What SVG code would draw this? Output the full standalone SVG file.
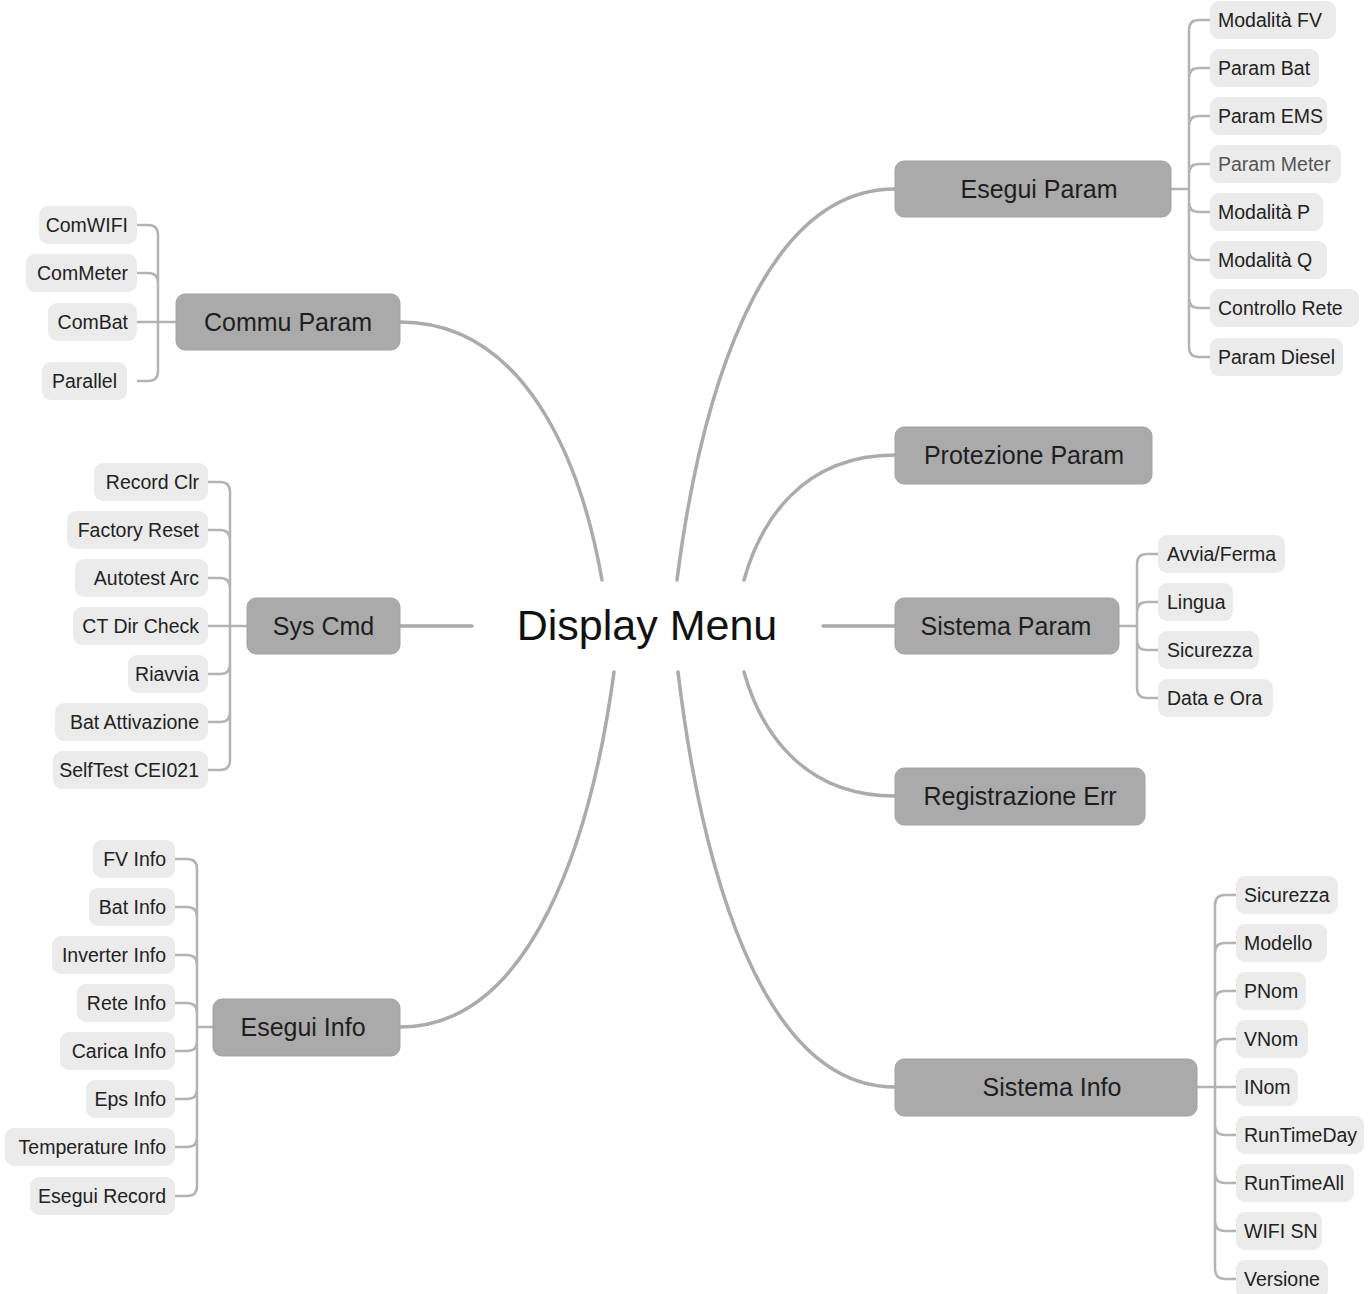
<svg xmlns="http://www.w3.org/2000/svg" width="1370" height="1294" viewBox="0 0 1370 1294">
<style>
text{font-family:"Liberation Sans",Arial,sans-serif;fill:#222}
.main{fill:none;stroke:#ababab;stroke-width:3.5;stroke-linecap:round}
.br{fill:none;stroke:#b3b3b3;stroke-width:2.5}
.mn rect{fill:#aaaaaa;stroke:#a2a2a2;stroke-width:1}
.mn text{font-size:25px;text-anchor:middle;fill:#1e1e1e}
.ch rect{fill:#ebebeb}
.ch text{font-size:19.5px}
.lt text{text-anchor:end}
.root text{font-size:43px;text-anchor:middle;fill:#111}
</style>
<rect width="1370" height="1294" fill="#ffffff"/>
<g id="connectors">
<path class="main" d="M472,626 H400"/>
<path class="main" d="M823,626 H895"/>
<path class="main" d="M602,580 C581,461 525,322 400,322"/>
<path class="main" d="M677,580 C700,400 760,189 895,189"/>
<path class="main" d="M744,580 C760,523 801,455 895,455"/>
<path class="main" d="M614,672 C592,835 533,1027 400,1027"/>
<path class="main" d="M744,672 C760,729 801,796 895,796"/>
<path class="main" d="M678,672 C701,863 760,1087 895,1087"/>
<path class="br" d="M1171,189 H1189 M1189,189 V30 Q1189,20 1199,20 H1210 M1189,189 V78 Q1189,68 1199,68 H1210 M1189,189 V126 Q1189,116 1199,116 H1210 M1189,189 V174 Q1189,164 1199,164 H1210 M1189,189 V202 Q1189,212 1199,212 H1210 M1189,189 V250 Q1189,260 1199,260 H1210 M1189,189 V298 Q1189,308 1199,308 H1210 M1189,189 V347 Q1189,357 1199,357 H1210"/>
<path class="br" d="M176,322 H158 M158,322 V235 Q158,225 148,225 H137 M158,322 V283 Q158,273 148,273 H137 M158,322 H137 M158,322 V371 Q158,381 148,381 H137"/>
<path class="br" d="M247,626 H230 M230,626 V492 Q230,482 220,482 H208 M230,626 V540 Q230,530 220,530 H208 M230,626 V588 Q230,578 220,578 H208 M230,626 H208 M230,626 V664 Q230,674 220,674 H208 M230,626 V712 Q230,722 220,722 H208 M230,626 V760 Q230,770 220,770 H208"/>
<path class="br" d="M213,1027 H197 M197,1027 V869 Q197,859 187,859 H175 M197,1027 V917 Q197,907 187,907 H175 M197,1027 V965 Q197,955 187,955 H175 M197,1027 V1013 Q197,1003 187,1003 H175 M197,1027 V1041 Q197,1051 187,1051 H175 M197,1027 V1089 Q197,1099 187,1099 H175 M197,1027 V1137 Q197,1147 187,1147 H175 M197,1027 V1186 Q197,1196 187,1196 H175"/>
<path class="br" d="M1119,626 H1137 M1137,626 V564 Q1137,554 1147,554 H1158 M1137,626 V612 Q1137,602 1147,602 H1158 M1137,626 V640 Q1137,650 1147,650 H1158 M1137,626 V688 Q1137,698 1147,698 H1158"/>
<path class="br" d="M1197,1087 H1215 M1215,1087 V905 Q1215,895 1225,895 H1236 M1215,1087 V953 Q1215,943 1225,943 H1236 M1215,1087 V1001 Q1215,991 1225,991 H1236 M1215,1087 V1049 Q1215,1039 1225,1039 H1236 M1215,1087 H1236 M1215,1087 V1125 Q1215,1135 1225,1135 H1236 M1215,1087 V1173 Q1215,1183 1225,1183 H1236 M1215,1087 V1221 Q1215,1231 1225,1231 H1236 M1215,1087 V1269 Q1215,1279 1225,1279 H1236"/>
</g>
<g id="display-menu" class="root"><text x="647" y="640">Display Menu</text></g>

<g id="esegui-param" class="mn"><rect x="895" y="161" width="276" height="56" rx="9"/><text x="1039" y="198">Esegui Param</text></g>
<g id="commu-param" class="mn"><rect x="176" y="294" width="224" height="56" rx="9"/><text x="288" y="331">Commu Param</text></g>
<g id="protezione-param" class="mn"><rect x="895" y="427" width="257" height="57" rx="9"/><text x="1024" y="464">Protezione Param</text></g>
<g id="sys-cmd" class="mn"><rect x="247" y="598" width="153" height="56" rx="9"/><text x="323.5" y="635">Sys Cmd</text></g>
<g id="sistema-param" class="mn"><rect x="895" y="598" width="224" height="56" rx="9"/><text x="1006" y="635">Sistema Param</text></g>
<g id="registrazione-err" class="mn"><rect x="895" y="768" width="250" height="57" rx="9"/><text x="1020" y="805">Registrazione Err</text></g>
<g id="esegui-info" class="mn"><rect x="213" y="999" width="187" height="57" rx="9"/><text x="303" y="1036">Esegui Info</text></g>
<g id="sistema-info" class="mn"><rect x="895" y="1059" width="302" height="57" rx="9"/><text x="1052" y="1096">Sistema Info</text></g>

<g id="modalita-fv" class="ch"><rect x="1210" y="1" width="126" height="38" rx="9"/><text x="1218" y="27">Modalità FV</text></g>
<g id="param-bat" class="ch"><rect x="1210" y="49" width="109" height="38" rx="9"/><text x="1218" y="75">Param Bat</text></g>
<g id="param-ems" class="ch"><rect x="1210" y="97" width="117" height="38" rx="9"/><text x="1218" y="123">Param EMS</text></g>
<g id="param-meter" class="ch"><rect x="1210" y="145" width="131" height="38" rx="9"/><text x="1218" y="171" style="fill:#555">Param Meter</text></g>
<g id="modalita-p" class="ch"><rect x="1210" y="193" width="113" height="38" rx="9"/><text x="1218" y="219">Modalità P</text></g>
<g id="modalita-q" class="ch"><rect x="1210" y="241" width="117" height="38" rx="9"/><text x="1218" y="267">Modalità Q</text></g>
<g id="controllo-rete" class="ch"><rect x="1210" y="289" width="149" height="38" rx="9"/><text x="1218" y="315">Controllo Rete</text></g>
<g id="param-diesel" class="ch"><rect x="1210" y="338" width="133" height="38" rx="9"/><text x="1218" y="364">Param Diesel</text></g>

<g id="comwifi" class="ch lt"><rect x="39" y="206" width="98" height="38" rx="9"/><text x="128" y="232">ComWIFI</text></g>
<g id="commeter" class="ch lt"><rect x="26" y="254" width="111" height="38" rx="9"/><text x="128" y="280">ComMeter</text></g>
<g id="combat" class="ch lt"><rect x="48" y="303" width="89" height="38" rx="9"/><text x="128" y="329">ComBat</text></g>
<g id="parallel" class="ch lt"><rect x="42" y="362" width="85" height="38" rx="9"/><text x="117" y="388">Parallel</text></g>

<g id="record-clr" class="ch lt"><rect x="94" y="463" width="114" height="38" rx="9"/><text x="199" y="489">Record Clr</text></g>
<g id="factory-reset" class="ch lt"><rect x="67" y="511" width="141" height="38" rx="9"/><text x="199" y="537">Factory Reset</text></g>
<g id="autotest-arc" class="ch lt"><rect x="75" y="559" width="133" height="38" rx="9"/><text x="199" y="585">Autotest Arc</text></g>
<g id="ct-dir-check" class="ch lt"><rect x="73" y="607" width="135" height="38" rx="9"/><text x="199" y="633">CT Dir Check</text></g>
<g id="riavvia" class="ch lt"><rect x="128" y="655" width="80" height="38" rx="9"/><text x="199" y="681">Riavvia</text></g>
<g id="bat-attivazione" class="ch lt"><rect x="55" y="703" width="153" height="38" rx="9"/><text x="199" y="729">Bat Attivazione</text></g>
<g id="selftest-cei021" class="ch lt"><rect x="53" y="751" width="155" height="38" rx="9"/><text x="199" y="777">SelfTest CEI021</text></g>

<g id="fv-info" class="ch lt"><rect x="93" y="840" width="82" height="38" rx="9"/><text x="166" y="866">FV Info</text></g>
<g id="bat-info" class="ch lt"><rect x="89" y="888" width="86" height="38" rx="9"/><text x="166" y="914">Bat Info</text></g>
<g id="inverter-info" class="ch lt"><rect x="52" y="936" width="123" height="38" rx="9"/><text x="166" y="962">Inverter Info</text></g>
<g id="rete-info" class="ch lt"><rect x="77" y="984" width="98" height="38" rx="9"/><text x="166" y="1010">Rete Info</text></g>
<g id="carica-info" class="ch lt"><rect x="60" y="1032" width="115" height="38" rx="9"/><text x="166" y="1058">Carica Info</text></g>
<g id="eps-info" class="ch lt"><rect x="86" y="1080" width="89" height="38" rx="9"/><text x="166" y="1106">Eps Info</text></g>
<g id="temperature-info" class="ch lt"><rect x="5" y="1128" width="170" height="38" rx="9"/><text x="166" y="1154">Temperature Info</text></g>
<g id="esegui-record" class="ch lt"><rect x="30" y="1177" width="145" height="38" rx="9"/><text x="166" y="1203">Esegui Record</text></g>

<g id="avvia-ferma" class="ch"><rect x="1158" y="535" width="127" height="38" rx="9"/><text x="1167" y="561">Avvia/Ferma</text></g>
<g id="lingua" class="ch"><rect x="1158" y="583" width="75" height="38" rx="9"/><text x="1167" y="609">Lingua</text></g>
<g id="sicurezza-sp" class="ch"><rect x="1158" y="631" width="101" height="38" rx="9"/><text x="1167" y="657">Sicurezza</text></g>
<g id="data-e-ora" class="ch"><rect x="1158" y="679" width="115" height="38" rx="9"/><text x="1167" y="705">Data e Ora</text></g>

<g id="sicurezza-si" class="ch"><rect x="1236" y="876" width="102" height="38" rx="9"/><text x="1244" y="902">Sicurezza</text></g>
<g id="modello" class="ch"><rect x="1236" y="924" width="91" height="38" rx="9"/><text x="1244" y="950">Modello</text></g>
<g id="pnom" class="ch"><rect x="1236" y="972" width="70" height="38" rx="9"/><text x="1244" y="998">PNom</text></g>
<g id="vnom" class="ch"><rect x="1236" y="1020" width="72" height="38" rx="9"/><text x="1244" y="1046">VNom</text></g>
<g id="inom" class="ch"><rect x="1236" y="1068" width="62" height="38" rx="9"/><text x="1244" y="1094">INom</text></g>
<g id="runtimeday" class="ch"><rect x="1236" y="1116" width="128" height="38" rx="9"/><text x="1244" y="1142">RunTimeDay</text></g>
<g id="runtimeall" class="ch"><rect x="1236" y="1164" width="118" height="38" rx="9"/><text x="1244" y="1190">RunTimeAll</text></g>
<g id="wifi-sn" class="ch"><rect x="1236" y="1212" width="86" height="38" rx="9"/><text x="1244" y="1238">WIFI SN</text></g>
<g id="versione" class="ch"><rect x="1236" y="1260" width="92" height="38" rx="9"/><text x="1244" y="1286">Versione</text></g>
</svg>
